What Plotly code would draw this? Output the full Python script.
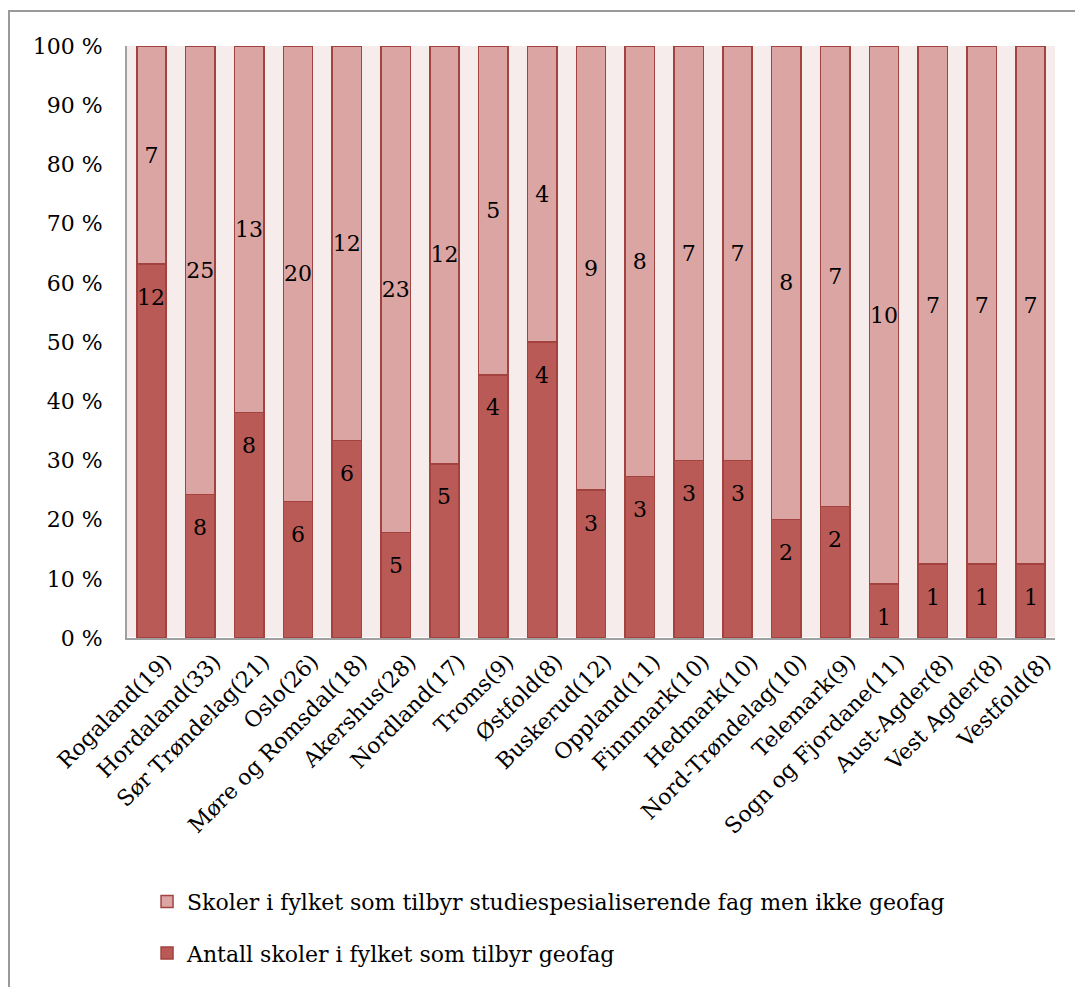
import plotly.graph_objects as go

# Counties with total number of schools offering general studies
fylker = ["Rogaland(19)", "Hordaland(33)", "Sør Trøndelag(21)", "Oslo(26)",
          "Møre og Romsdal(18)", "Akershus(28)", "Nordland(17)", "Troms(9)",
          "Østfold(8)", "Buskerud(12)", "Oppland(11)", "Finnmark(10)",
          "Hedmark(10)", "Nord-Trøndelag(10)", "Telemark(9)",
          "Sogn og Fjordane(11)", "Aust-Agder(8)", "Vest Agder(8)", "Vestfold(8)"]

# Schools offering geofag
med_geofag = [12, 8, 8, 6, 6, 5, 5, 4, 4, 3, 3, 3, 3, 2, 2, 1, 1, 1, 1]
# Schools offering general studies but not geofag
uten_geofag = [7, 25, 13, 20, 12, 23, 12, 5, 4, 9, 8, 7, 7, 8, 7, 10, 7, 7, 7]

y_tick_vals = [0, 10, 20, 30, 40, 50, 60, 70, 80, 90, 100]
y_tick_text = [f"{v} %" for v in y_tick_vals]

FONT = "DejaVu Serif"
FS = 22
DARK = "#B95A56"
LIGHT = "#DBA5A3"
EDGE = "#A3433F"

# share of geofag schools per county, used to place the inside-end labels
andel = [m / (m + u) * 100 for m, u in zip(med_geofag, uten_geofag)]

fig = go.Figure()
fig.add_trace(go.Bar(
    x=fylker, y=med_geofag, name="Antall skoler i fylket som tilbyr geofag",
    marker=dict(color=DARK, line=dict(color=EDGE, width=1.5)),
    legendgroup="a", legendrank=2,
))
fig.add_trace(go.Bar(
    x=fylker, y=uten_geofag,
    name="Skoler i fylket som tilbyr studiespesialiserende fag men ikke geofag",
    text=[str(v) for v in uten_geofag], textposition="inside",
    insidetextanchor="middle", textangle=0, constraintext="none",
    textfont=dict(family=FONT, size=FS, color="black"),
    marker=dict(color=LIGHT, line=dict(color=EDGE, width=1.5)),
    legendgroup="b", legendrank=1,
))

annotations = [
    dict(x=f, y=a, text=str(m), xref="x", yref="y", showarrow=False,
         yanchor="middle", xanchor="center", yshift=-33,
         font=dict(family=FONT, size=FS, color="black"))
    for f, a, m in zip(fylker, andel, med_geofag)
]

fig.update_layout(
    width=1075, height=987,
    barmode="stack", barnorm="percent", bargap=0.4,
    paper_bgcolor="white", plot_bgcolor="#F5ECEB",
    margin=dict(l=127, r=20, t=46, b=346),
    font=dict(family=FONT, size=FS, color="black"),
    xaxis=dict(tickangle=-45, showline=True, linecolor="#A0A0A0", linewidth=2,
               ticks="", showgrid=False, tickfont=dict(size=FS),
               ticklabelshift=14),
    yaxis=dict(range=[0, 100], tickvals=y_tick_vals, ticktext=y_tick_text,
               showline=True, linecolor="#A0A0A0", linewidth=2, ticks="",
               showgrid=False, ticklabelstandoff=18, tickfont=dict(size=FS)),
    legend=dict(x=0.0216, y=-0.41, xanchor="left", yanchor="top",
                traceorder="grouped", tracegroupgap=20,
                font=dict(family=FONT, size=FS), itemwidth=30,
                bgcolor="rgba(0,0,0,0)"),
    showlegend=True,
    annotations=annotations,
    shapes=[dict(type="rect", xref="paper", yref="paper",
                 x0=(9 - 127) / 928, x1=(1090 - 127) / 928,
                 y0=(640 - 1000) / 594, y1=(640 - 11) / 594,
                 line=dict(color="#9A9A9A", width=2), layer="below")],
)

fig.write_html("out.html")
